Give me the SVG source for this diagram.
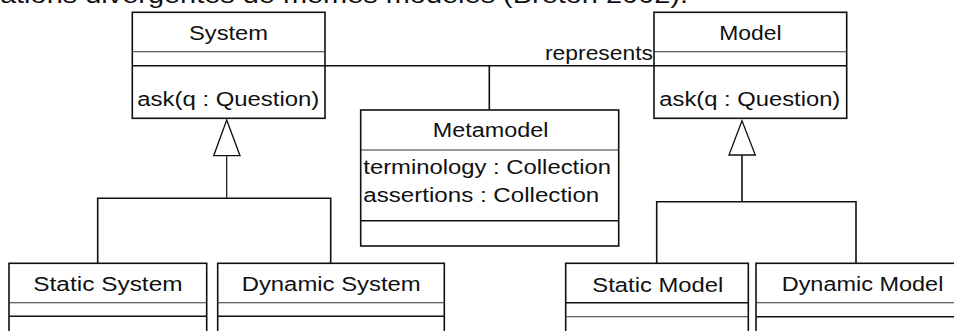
<svg xmlns="http://www.w3.org/2000/svg" width="954" height="331" viewBox="0 0 954 331">
<style>
  .box { fill: #fff; stroke: #111; stroke-width: 1.6; }
  .sep1 { stroke: #333; stroke-width: 1.1; }
  .sep2 { stroke: #111; stroke-width: 1.6; }
  .t { font-family: "Liberation Sans", Arial, sans-serif; font-size: 20px; fill: #111; }
  .ln { fill: none; stroke: #111; stroke-width: 1.6; }
  .tri { fill: #fff; stroke: #111; stroke-width: 1.3; }
</style>
<rect x="0" y="0" width="954" height="331" fill="#fff"/>
<text class="t" x="0" y="3" style="font-size:24px" textLength="688" lengthAdjust="spacingAndGlyphs">ations divergentes de mêmes modèles (Breton 2002).</text>

<g id="connectors">
  <line class="ln" x1="325" y1="65.7" x2="654" y2="65.7"/>
  <line class="ln" x1="489.3" y1="65.7" x2="489.3" y2="110"/>
  <line class="ln" x1="226.7" y1="155.7" x2="226.7" y2="198.3" style="stroke-width:1.2"/>
  <polyline class="ln" points="97.7,263 97.7,198.3 330.7,198.3 330.7,263"/>
  <polygon class="tri" points="226.7,120 213.7,155.7 240,155.7"/>
  <line class="ln" x1="742" y1="155" x2="742" y2="201.7"/>
  <polyline class="ln" points="656.7,263 656.7,201.7 856,201.7 856,263"/>
  <polygon class="tri" points="742,120.7 729,155 755.3,155"/>
</g>

<g id="system">
  <rect class="box" x="132.3" y="12.3" width="192.7" height="106"/>
  <line class="sep1" x1="132.3" y1="51.7" x2="325" y2="51.7"/>
  <line class="sep2" x1="132.3" y1="65.7" x2="325" y2="65.7"/>
  <text class="t" x="189" y="40.3" textLength="79" lengthAdjust="spacingAndGlyphs">System</text>
  <text class="t" x="137.3" y="105.5" textLength="182" lengthAdjust="spacingAndGlyphs">ask(q : Question)</text>
</g>

<g id="model">
  <rect class="box" x="654" y="12.3" width="192.7" height="106"/>
  <line class="sep1" x1="654" y1="51.7" x2="846.7" y2="51.7"/>
  <line class="sep2" x1="654" y1="65.7" x2="846.7" y2="65.7"/>
  <text class="t" x="719.3" y="40.3" textLength="62.3" lengthAdjust="spacingAndGlyphs">Model</text>
  <text class="t" x="659.3" y="105.5" textLength="181" lengthAdjust="spacingAndGlyphs">ask(q : Question)</text>
</g>

<g id="represents-label">
  <text class="t" x="545" y="59.5" textLength="108" lengthAdjust="spacingAndGlyphs">represents</text>
</g>

<g id="metamodel">
  <rect class="box" x="360.7" y="110" width="258" height="136"/>
  <line class="sep1" x1="360.7" y1="150" x2="618.7" y2="150"/>
  <line class="sep2" x1="360.7" y1="220.7" x2="618.7" y2="220.7"/>
  <text class="t" x="432.7" y="137.3" textLength="115.7" lengthAdjust="spacingAndGlyphs">Metamodel</text>
  <text class="t" x="363.3" y="173.7" textLength="247.7" lengthAdjust="spacingAndGlyphs">terminology : Collection</text>
  <text class="t" x="363.3" y="201.9" textLength="236" lengthAdjust="spacingAndGlyphs">assertions : Collection</text>
</g>

<g id="static-system">
  <rect class="box" x="9" y="263.3" width="197.7" height="90"/>
  <line class="sep1" x1="9" y1="302.7" x2="206.7" y2="302.7"/>
  <line class="sep2" x1="9" y1="316.3" x2="206.7" y2="316.3"/>
  <text class="t" x="33.3" y="290.7" textLength="149.3" lengthAdjust="spacingAndGlyphs">Static System</text>
</g>

<g id="dynamic-system">
  <rect class="box" x="217.7" y="263.3" width="226.6" height="90"/>
  <line class="sep1" x1="217.7" y1="302.7" x2="444.3" y2="302.7"/>
  <line class="sep2" x1="217.7" y1="316.3" x2="444.3" y2="316.3"/>
  <text class="t" x="241.7" y="290.7" textLength="179" lengthAdjust="spacingAndGlyphs">Dynamic System</text>
</g>

<g id="static-model">
  <rect class="box" x="565.7" y="263.3" width="182.6" height="90"/>
  <line class="sep2" x1="565.7" y1="302.7" x2="748.3" y2="302.7"/>
  <line class="sep1" x1="565.7" y1="316.7" x2="748.3" y2="316.7"/>
  <text class="t" x="592.3" y="291.5" textLength="131" lengthAdjust="spacingAndGlyphs">Static Model</text>
</g>

<g id="dynamic-model">
  <rect class="box" x="756" y="263.3" width="210" height="90"/>
  <line class="sep1" x1="756" y1="302.7" x2="966" y2="302.7"/>
  <line class="sep2" x1="756" y1="316.7" x2="966" y2="316.7"/>
  <text class="t" x="781.7" y="291" textLength="161.7" lengthAdjust="spacingAndGlyphs">Dynamic Model</text>
</g>
</svg>
